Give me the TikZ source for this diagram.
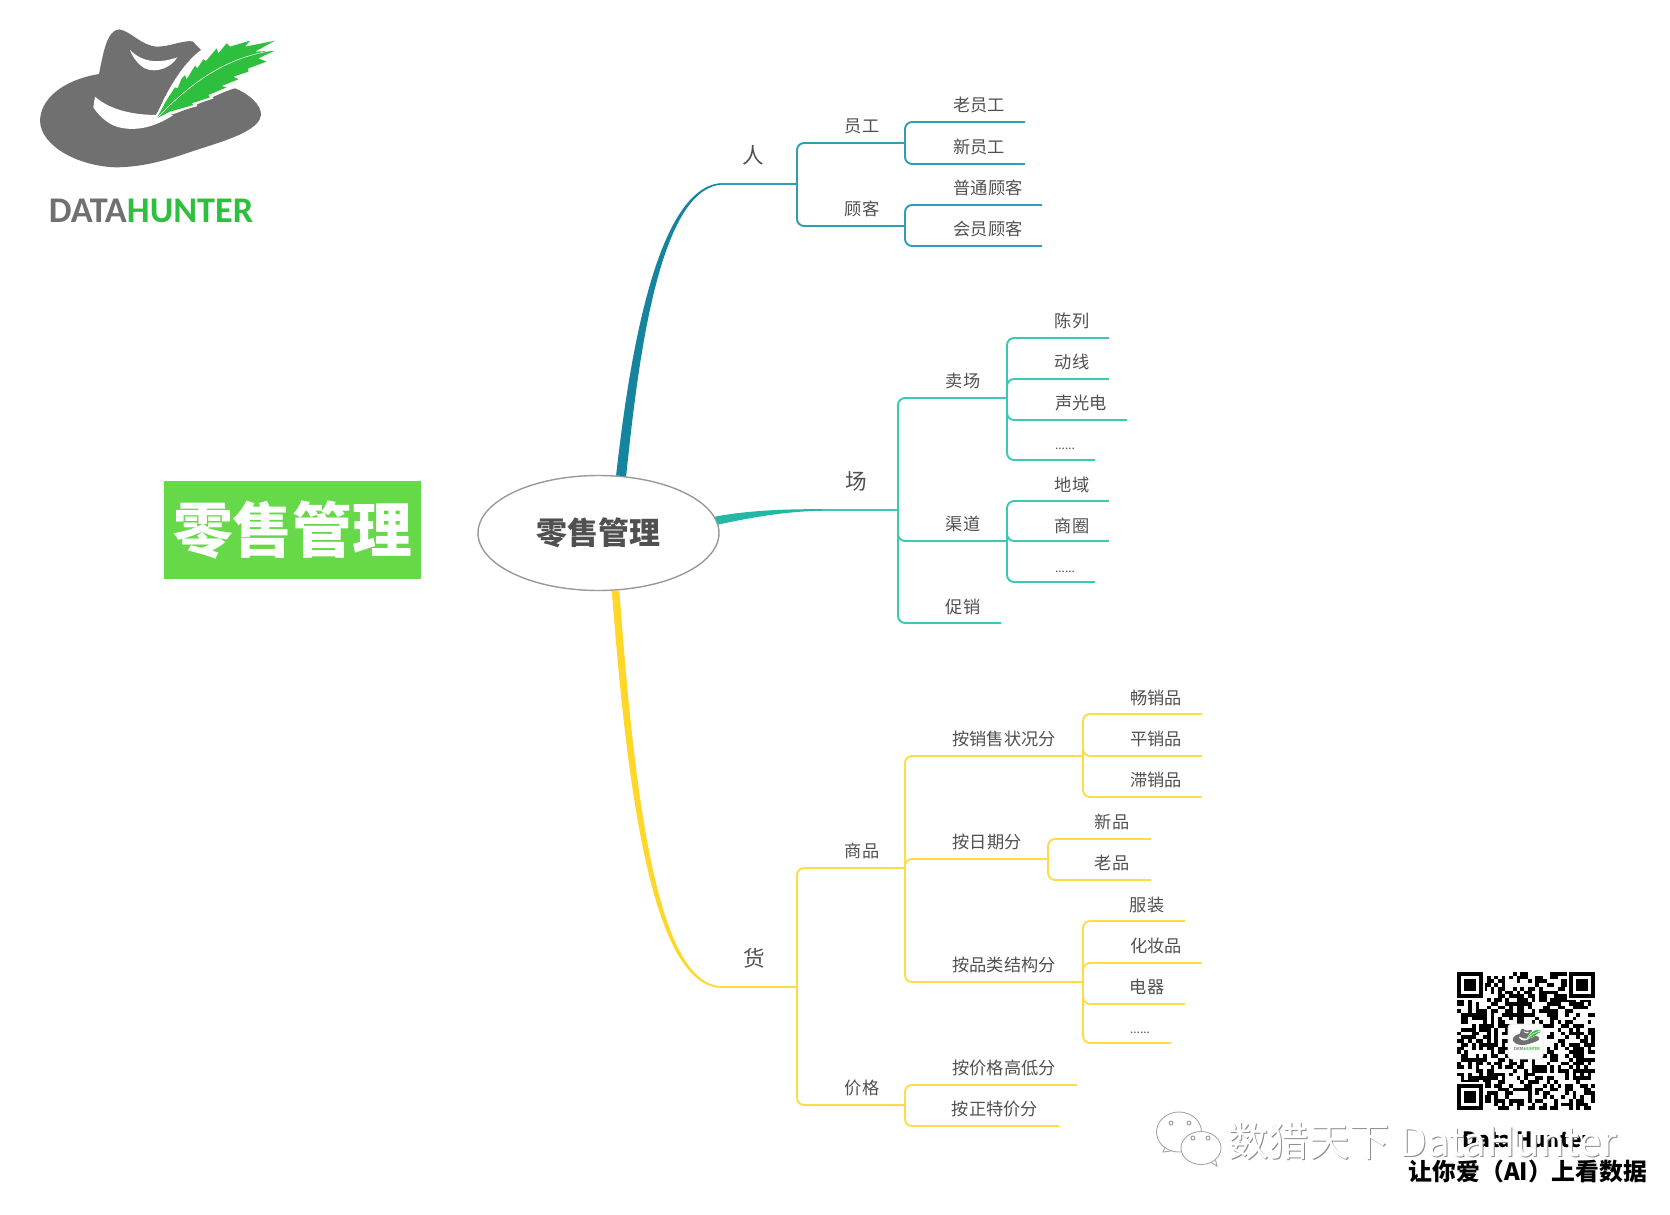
\documentclass[tikz,border=0pt]{standalone}
\usepackage{fontspec}
\setmainfont{Noto Sans CJK SC}
\newfontfamily\logofont{Carlito}
\usetikzlibrary{positioning, calc}
\usetikzlibrary{shapes.geometric}

\definecolor{hatgray}{HTML}{707070}
\definecolor{logogreen}{HTML}{2FBF3F}
\definecolor{boxgreen}{HTML}{66D948}
\definecolor{textgray}{HTML}{505050}
\definecolor{renthick}{HTML}{14849F}
\definecolor{renthin}{HTML}{2E9DB8}
\definecolor{changthick}{HTML}{22B8A4}
\definecolor{changthin}{HTML}{3CC9B4}
\definecolor{huothick}{HTML}{FFD728}
\definecolor{huothin}{HTML}{FDDC45}

\tikzset{
    leaftext/.style={text=textgray, inner sep=0pt, font=\fontsize{9.8}{11}\selectfont},
    headtext/.style={text=textgray, inner sep=0pt, font=\fontsize{12.3}{14}\selectfont},
    dotstext/.style={text=textgray, inner sep=0pt, font=\fontsize{6.8}{8}\selectfont},
    renline/.style={renthin, line width=1.1pt, rounded corners=4pt},
    changline/.style={changthin, line width=1.1pt, rounded corners=4pt},
    huoline/.style={huothin, line width=1.1pt, rounded corners=4pt},
    markshadow/.style={text=black!45, inner sep=0pt},
    markwhite/.style={text=white, inner sep=0pt}
}

% one branch: line style, name, parent, label position, label, end of its line
\newcommand{\twig}[6]{
    \node[leaftext] (#2) at (#4) {#5};
    \coordinate (#2end) at (#6);
    \draw[#1] (#3end) |- (#2end);
}
\newcommand{\dottwig}[5]{
    \node[dotstext] (#2) at (#4) {......};
    \coordinate (#2end) at (#5);
    \draw[#1] (#3end) |- (#2end);
}
\newcommand{\featherpath}{(470,355) -- (500,300) -- (525,262) -- (533,265) -- (545,235)
    -- (555,225) -- (560,238) -- (585,197) -- (592,205) -- (610,178) -- (618,183)
    -- (650,145) -- (655,160) -- (680,130) -- (690,140) -- (750,122) -- (735,140)
    -- (825,122) -- (765,155) -- (825,152) -- (775,175) -- (800,185) -- (745,205)
    -- (745,215) -- (700,230) -- (715,238) -- (665,258) -- (680,262) -- (625,285)
    -- (630,292) -- (575,310) -- (580,315) -- (510,335) -- cycle}
% the hat and feather, in the pixels of the big logo
\newcommand{\hatlogo}[1]{
    \fill[hatgray] (297,222) .. controls (310,160) and (320,90) .. (358,88)
        .. controls (395,95) and (420,135) .. (470,140)
        .. controls (510,140) and (550,120) .. (578,124) -- (603,150)
        .. controls (560,180) and (520,240) .. (490,300) -- (470,345) -- (510,345)
        .. controls (570,330) and (650,280) .. (705,265)
        .. controls (745,280) and (785,315) .. (783,345)
        .. controls (780,385) and (700,415) .. (620,440)
        .. controls (540,465) and (460,500) .. (350,502)
        .. controls (240,500) and (120,440) .. (120,360)
        .. controls (125,280) and (215,235) .. (297,222) -- cycle;
    \fill[white] (285,290) .. controls (330,330) and (400,345) .. (470,345) -- (520,345)
        .. controls (460,385) and (400,395) .. (350,380)
        .. controls (320,370) and (295,345) .. (280,322) -- cycle;
    \fill[white] (390,150) .. controls (430,190) and (480,190) .. (532,172)
        .. controls (510,210) and (450,225) .. (420,195)
        .. controls (405,180) and (395,165) .. (390,150) -- cycle;
    \draw[white, line width=#1] \featherpath;
    \fill[logogreen] \featherpath;
    \draw[white, line width=0.3pt] (470,355) .. controls (600,220) and (700,170) .. (825,150);
}
\newcommand{\qrfinder}[2]{
    \fill[white] (#1-0.5,#2-0.5) rectangle +(8,8);
    \fill[black] (#1,#2) rectangle +(7,7);
    \fill[white] (#1+1,#2+1) rectangle +(5,5);
    \fill[black] (#1+2,#2+2) rectangle +(3,3);
}

\begin{document}
\begin{tikzpicture}[x=0.02cm, y=-0.02cm]
    \useasboundingbox (0,0) rectangle (1670,1214);

    % logo
    \begin{scope}[scale=1/3]
        \hatlogo{2.5pt}
    \end{scope}
    \node[inner sep=0pt, font=\logofont\fontsize{20.6}{24}\selectfont\bfseries] (logoname) at (151,211)
        {\textcolor{hatgray}{DATA}\textcolor{logogreen}{HUNTER}};

    % title box
    \node[fill=boxgreen, text=white, inner sep=0pt, minimum width=5.14cm, minimum height=1.96cm,
        font=\fontsize{34}{36}\selectfont\bfseries] (title) at (292.5,530) {零售管理};

    % centre
    \node[ellipse, draw=black!40, line width=0.8pt, inner sep=0pt, minimum width=4.82cm, minimum height=2.3cm,
        text=textgray, font=\fontsize{17.6}{20}\selectfont\bfseries] (root) at (598.5,533) {零售管理};

    % the three thick arms
    \coordinate (renstart) at (720,184);
    \coordinate (changstart) at (822,510);
    \coordinate (huostart) at (722,987);
    \fill[renthick] (root.73.4) .. controls (628,370) and (654,190) .. ($(renstart)+(0,-0.8)$)
        -- ($(renstart)+(0,0.8)$) .. controls (657,192) and (637,372) .. (root.64.7) -- cycle;
    \fill[changthick] (root.8) .. controls (750,510) and (790,509) .. ($(changstart)+(0,-0.8)$)
        -- ($(changstart)+(0,0.8)$) .. controls (790,511) and (752,517) .. (root.4) -- cycle;
    \fill[huothick] (root.-77) .. controls (627,790) and (652,987.5) .. ($(huostart)+(0,0.8)$)
        -- ($(huostart)+(0,-0.8)$) .. controls (656,985.5) and (634,790) .. (root.-70.7) -- cycle;

    % ren
    \node[headtext] (ren) at (753,155) {人};
    \coordinate (renend) at (797,184);
    \draw[renthin, line width=1.1pt] (renstart) -- (renend);
    \twig{renline}{yuangong}{ren}{862,126}{员工}{905,143}
    \twig{renline}{guke}{ren}{862,209}{顾客}{905,226}
    \twig{renline}{laoyuangong}{yuangong}{979,105}{老员工}{1025,122}
    \twig{renline}{xinyuangong}{yuangong}{979,147}{新员工}{1025,164}
    \twig{renline}{putong}{guke}{988,188}{普通顾客}{1042,205}
    \twig{renline}{huiyuan}{guke}{988,229}{会员顾客}{1042,246}

    % chang
    \node[headtext] (chang) at (856,481) {场};
    \coordinate (changend) at (898,510);
    \draw[changthin, line width=1.1pt] (changstart) -- (changend);
    \twig{changline}{maichang}{chang}{963,381}{卖场}{1007,398}
    \twig{changline}{qudao}{chang}{963,524}{渠道}{1007,541}
    \twig{changline}{cuxiao}{chang}{963,607}{促销}{1001,623}
    \twig{changline}{chenlie}{maichang}{1072,321}{陈列}{1109,338}
    \twig{changline}{dongxian}{maichang}{1072,362}{动线}{1109,379}
    \twig{changline}{shengguang}{maichang}{1081,403}{声光电}{1127,420}
    \dottwig{changline}{maidots}{maichang}{1065,449}{1095,460}
    \twig{changline}{diyu}{qudao}{1072,485}{地域}{1109,501}
    \twig{changline}{shangquan}{qudao}{1072,526}{商圈}{1109,541}
    \dottwig{changline}{qudots}{qudao}{1065,572}{1095,582}

    % huo
    \node[headtext] (huo) at (754,958) {货};
    \coordinate (huoend) at (797,987);
    \draw[huothin, line width=1.1pt] (huostart) -- (huoend);
    \twig{huoline}{shangpin}{huo}{862,851}{商品}{905,868}
    \twig{huoline}{jiage}{huo}{862,1088}{价格}{905,1105}
    \twig{huoline}{xiaoshou}{shangpin}{1004,739}{按销售状况分}{1083,756}
    \twig{huoline}{riqi}{shangpin}{987,842}{按日期分}{1048,859}
    \twig{huoline}{pinlei}{shangpin}{1004,965}{按品类结构分}{1083,982}
    \twig{huoline}{changxiao}{xiaoshou}{1156,698}{畅销品}{1202,714}
    \twig{huoline}{pingxiao}{xiaoshou}{1156,739}{平销品}{1202,756}
    \twig{huoline}{zhixiao}{xiaoshou}{1156,780}{滞销品}{1202,797}
    \twig{huoline}{xinpin}{riqi}{1112,822}{新品}{1151,839}
    \twig{huoline}{laopin}{riqi}{1112,863}{老品}{1151,880}
    \twig{huoline}{fuzhuang}{pinlei}{1147,905}{服装}{1185,921}
    \twig{huoline}{huazhuang}{pinlei}{1156,946}{化妆品}{1202,963}
    \twig{huoline}{dianqi}{pinlei}{1147,987}{电器}{1185,1004}
    \dottwig{huoline}{pindots}{pinlei}{1140,1033}{1171,1043}
    \twig{huoline}{gaodi}{jiage}{1004,1068}{按价格高低分}{1077,1085}
    \twig{huoline}{zhengte}{jiage}{995,1109}{按正特价分}{1059,1126}

    % qr code
    \begin{scope}[shift={(1457,972)}, x=0.0746cm, y=-0.0746cm]
        \pgfmathsetseed{7}
        \foreach \i in {0,...,36}
            \foreach \j in {0,...,36} {
                \pgfmathrandominteger{\qrbit}{0}{1}
                \ifnum\qrbit=1 \fill[black] (\i,\j) rectangle +(1,1); \fi
            }
        \qrfinder{0}{0}
        \qrfinder{30}{0}
        \qrfinder{0}{30}
    \end{scope}
    \fill[white, draw=black!12, rounded corners=2pt] (1508,1024) rectangle (1543,1059);
    \begin{scope}[shift={(1508,1025)}, scale=0.04]
        \hatlogo{0.2pt}
    \end{scope}
    \node[inner sep=0pt, font=\logofont\fontsize{2.6}{3}\selectfont\bfseries] (qrname) at (1527,1049)
        {\textcolor{hatgray}{DATA}\textcolor{logogreen}{HUNTER}};

    % caption under the code
    \node[inner sep=0pt, font=\fontsize{12}{14}\selectfont\bfseries] (qrcaption) at (1527,1140) {Data Hunter};
    \node[inner sep=0pt, font=\fontsize{13.55}{15}\selectfont\bfseries] (slogan) at (1528,1171) {让你爱（AI）上看数据};

    % watermark
    \filldraw[white, draw=black!35, line width=0.5pt] (1163,1152) -- (1168,1140) -- (1178,1150) -- cycle;
    \filldraw[white, draw=black!35, line width=0.5pt] (1179,1132) ellipse (22.5 and 20);
    \filldraw[white, draw=black!35, line width=0.5pt] (1207,1160) -- (1217,1166) -- (1214,1154) -- cycle;
    \filldraw[white, draw=black!35, line width=0.5pt] (1201,1148) ellipse (20 and 16.5);
    \foreach \ex/\ey in {1171/1123, 1189/1123, 1193/1138, 1208/1138}
        \draw[black!40, line width=0.5pt] (\ex,\ey) circle (2);
    \node[markshadow, font=\fontsize{23}{26}\selectfont] (markback) at (1424,1142) {数猎天下 DataHunter};
    \node[markwhite, font=\fontsize{23}{26}\selectfont] (markfront) at (1423,1141) {数猎天下 DataHunter};
\end{tikzpicture}
\end{document}
